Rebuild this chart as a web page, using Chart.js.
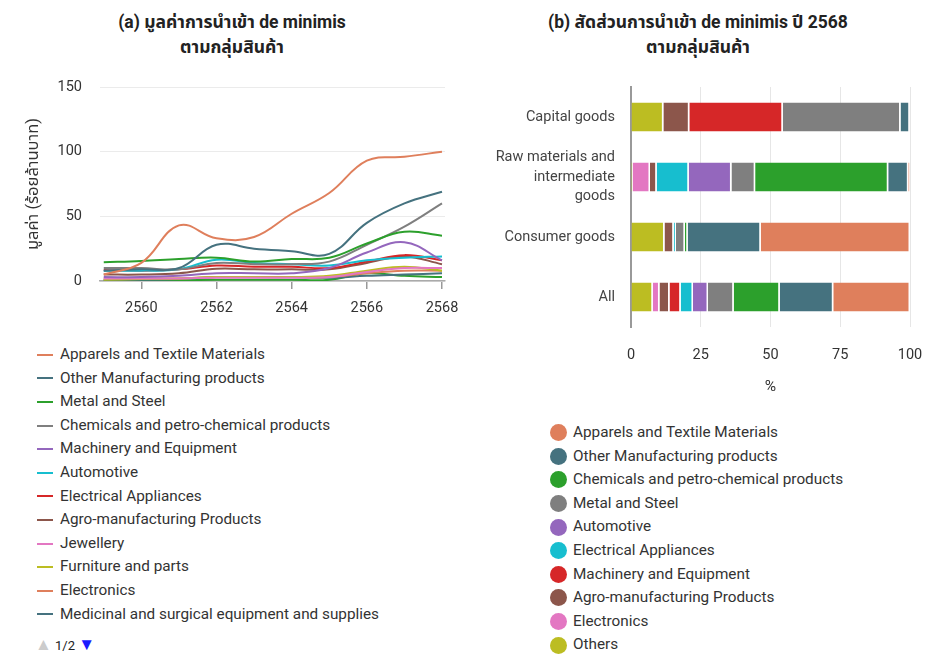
<!DOCTYPE html>
<html>
<head>
<meta charset="utf-8">
<script src="https://cdn.jsdelivr.net/npm/chart.js@4.4.1/dist/chart.umd.min.js"></script>
<style>
  body { margin: 0; background: #fff; font-family: Roboto, "Noto Sans", "Noto Sans Thai", sans-serif; color: #333; }
  .title { position: absolute; top: 10px; text-align: center; font-weight: bold; font-size: 17.5px; line-height: 25px; color: #222; }
  canvas { position: absolute; }
  .legend { position: absolute; list-style: none; margin: 0; padding: 0; font-size: 15.3px; color: #333; }
  .legend li { height: 23.6px; line-height: 23.6px; white-space: nowrap; display: flex; align-items: center; }
  .legend .ln { display: inline-block; width: 16px; height: 2px; margin-right: 7px; }
  .legend .dot { display: inline-block; width: 17px; height: 17px; border-radius: 50%; margin-right: 6px; }
  .pager { position: absolute; left: 35px; top: 634px; font-size: 13px; color: #222; }
</style>
</head>
<body>
<div class="title" style="left:0;width:464px;">(a) มูลค่าการนำเข้า de minimis<br>ตามกลุ่มสินค้า</div>
<div class="title" style="left:464px;width:468px;">(b) สัดส่วนการนำเข้า de minimis ปี 2568<br>ตามกลุ่มสินค้า</div>
<canvas id="lineChart" width="460" height="255" style="left:0;top:70px;"></canvas>
<canvas id="barChart" width="468" height="330" style="left:460px;top:70px;"></canvas>
<ul id="lineLegend" class="legend" style="left:37px;top:343px;"></ul>
<ul id="barLegend" class="legend" style="left:550px;top:421px;"></ul>
<div class="pager"><span style="color:#ccc;font-size:17px;">▲</span> 1/2 <span style="color:#1a1aff;font-size:17px;">▼</span></div>
<script>
// (a) import value by product group, hundred million baht
const years = [2559, 2560, 2561, 2562, 2563, 2564, 2565, 2566, 2567, 2568];
const yearTicks = [2560, 2562, 2564, 2566, 2568];
const apparels    = [5, 14, 43, 33, 34, 52, 68, 93, 96, 100];
const otherManuf  = [8, 9, 10, 28, 25, 23, 21, 45, 60, 69];
const metalSteel  = [14.5, 15.5, 17, 18, 15, 17, 18, 29, 38, 35];
const chemicals   = [10, 10, 9, 14, 13, 13, 15, 28, 42, 60];
const machinery   = [3, 3, 4, 6, 6, 6, 10, 22, 30, 16];
const automotive  = [8, 8, 9, 16.5, 14, 13, 12, 16, 18, 19];
const electrical  = [8.5, 8, 9, 12, 11, 11, 10, 15, 20, 16];
const agro        = [5, 5, 6, 9.5, 9, 9, 9, 14, 19, 13];
const jewellery   = [2, 2, 2, 2.5, 2.5, 2.5, 3, 7, 10, 10];
const furniture   = [1, 1.5, 2, 3, 3, 3, 4, 8, 11, 8];
const electronics = [2, 2, 2, 3, 3, 3, 3, 6, 8, 8];
const medicinal   = [1, 1, 1.5, 3, 3, 3, 2.5, 4, 5, 6];
const othersLine  = [0.5, 0.5, 0.5, 1, 1, 1, 1, 6, 4, 3];
const yTicks = [0, 50, 100, 150];

const lineSeries = [
  ['Apparels and Textile Materials', apparels, '#df7f5c'],
  ['Other Manufacturing products', otherManuf, '#45727f'],
  ['Metal and Steel', metalSteel, '#2ca02c'],
  ['Chemicals and petro-chemical products', chemicals, '#7f7f7f'],
  ['Machinery and Equipment', machinery, '#9467bd'],
  ['Automotive', automotive, '#17becf'],
  ['Electrical Appliances', electrical, '#d62728'],
  ['Agro-manufacturing Products', agro, '#8c564b'],
  ['Jewellery', jewellery, '#e377c2'],
  ['Furniture and parts', furniture, '#bcbd22'],
  ['Electronics', electronics, '#df7f5c'],
  ['Medicinal and surgical equipment and supplies', medicinal, '#45727f'],
  ['Others', othersLine, '#2ca02c']
];
const legendPage = 12;

// (b) share of de minimis imports 2568, %
const groups = ['Capital goods', ['Raw materials and', 'intermediate', 'goods'], 'Consumer goods', 'All'];
const shOthers      = [11.6, 0.6, 12.0, 7.8];
const shElectronics = [0, 6.2, 0, 2.4];
const shAgro        = [9.3, 2.4, 3.3, 3.6];
const shMachinery   = [33.5, 0, 0, 4.0];
const shElectrical  = [0, 11.5, 0.8, 4.4];
const shAutomotive  = [0, 15.3, 0, 5.4];
const shMetal       = [42.2, 8.5, 3.2, 9.2];
const shChemicals   = [0, 47.7, 1.0, 16.5];
const shOtherManuf  = [3.3, 7.2, 26.2, 19.2];
const shApparels    = [0.1, 0.6, 53.5, 27.5];
const xTicks = [0, 25, 50, 75, 100];

const barSeries = [
  ['Others', shOthers, '#bcbd22'],
  ['Electronics', shElectronics, '#e377c2'],
  ['Agro-manufacturing Products', shAgro, '#8c564b'],
  ['Machinery and Equipment', shMachinery, '#d62728'],
  ['Electrical Appliances', shElectrical, '#17becf'],
  ['Automotive', shAutomotive, '#9467bd'],
  ['Metal and Steel', shMetal, '#7f7f7f'],
  ['Chemicals and petro-chemical products', shChemicals, '#2ca02c'],
  ['Other Manufacturing products', shOtherManuf, '#45727f'],
  ['Apparels and Textile Materials', shApparels, '#df7f5c']
];

const fontFam = 'Roboto, "Noto Sans", "Noto Sans Thai", sans-serif';
Chart.defaults.font.family = fontFam;
Chart.defaults.color = '#333';

// fixed axis boxes; drop the label overhang padding chart.js adds
function fixHeight(h) {
  return s => { s.height = h; s.paddingLeft = 0; s.paddingRight = 0; };
}
function fixWidth(w) {
  return s => { s.width = w; s.paddingTop = 0; s.paddingBottom = 0; };
}

const lineChart = new Chart(document.getElementById('lineChart'), {
  type: 'line',
  data: {
    datasets: lineSeries.map(([label, vals, color]) => ({
      label: label,
      data: years.map((y, i) => ({ x: y, y: vals[i] })),
      borderColor: color,
      backgroundColor: color,
      borderWidth: 2,
      pointRadius: 0,
      tension: 0.4,
      fill: false
    }))
  },
  options: {
    responsive: false,
    animation: false,
    layout: { padding: { left: 0, right: 15, top: 17, bottom: 0 } },
    plugins: { legend: { display: false }, tooltip: { enabled: false } },
    scales: {
      x: {
        type: 'linear',
        min: 2558.9,
        max: 2568.08,
        afterBuildTicks: s => { s.ticks = yearTicks.map(v => ({ value: v })); },
        afterFit: fixHeight(44),
        grid: { drawOnChartArea: false, drawTicks: true, tickLength: 8, color: '#999', lineWidth: 1.5 },
        border: { display: true, color: '#aaa', width: 1.5 },
        ticks: { padding: 11, font: { size: 14.5 }, color: '#333', callback: v => String(v), maxRotation: 0 }
      },
      y: {
        min: 0,
        max: 150,
        afterBuildTicks: s => { s.ticks = yTicks.map(v => ({ value: v })); },
        afterFit: fixWidth(100),
        grid: { color: '#ebebeb', drawTicks: false },
        border: { display: false },
        ticks: { padding: 18, font: { size: 14.5 }, color: '#333' },
        title: { display: true, text: 'มูลค่า (ร้อยล้านบาท)', font: { size: 16.5 }, color: '#333', padding: { top: 24, bottom: 0 } }
      }
    }
  }
});

const barChart = new Chart(document.getElementById('barChart'), {
  type: 'bar',
  data: {
    labels: groups,
    datasets: barSeries.map(([label, vals, color]) => ({
      label: label,
      data: vals,
      backgroundColor: color,
      borderColor: '#fff',
      borderWidth: { left: 0, right: 1.5, top: 0, bottom: 0 },
      borderSkipped: false,
      categoryPercentage: 0.8,
      barPercentage: 0.6
    }))
  },
  options: {
    indexAxis: 'y',
    responsive: false,
    animation: false,
    layout: { padding: { left: 0, right: 18, top: 17, bottom: 0 } },
    plugins: { legend: { display: false }, tooltip: { enabled: false } },
    scales: {
      x: {
        stacked: true,
        min: 0,
        max: 100,
        afterBuildTicks: s => { s.ticks = xTicks.map(v => ({ value: v })); },
        afterFit: fixHeight(73),
        grid: { color: '#e6e6e6', drawTicks: false },
        border: { display: false },
        ticks: { padding: 20, font: { size: 14.5 }, color: '#333' },
        title: { display: true, text: '%', font: { size: 15.5 }, color: '#333', padding: { top: 10 } }
      },
      y: {
        stacked: true,
        afterFit: fixWidth(171),
        grid: { display: false, drawTicks: false },
        border: { display: true, color: '#999', width: 2 },
        ticks: { autoSkip: false, padding: 16, font: { size: 14.5, lineHeight: 1.32 }, color: '#444' }
      }
    }
  }
});

// html legends built from the chart items
function buildLegend(chart, el, marker, limit, reverse) {
  let items = chart.options.plugins.legend.labels.generateLabels(chart);
  if (reverse) items = items.reverse();
  items.slice(0, limit).forEach(it => {
    const li = document.createElement('li');
    const m = document.createElement('span');
    m.className = marker;
    m.style.background = marker === 'dot' ? it.fillStyle : it.strokeStyle;
    li.appendChild(m);
    li.appendChild(document.createTextNode(it.text));
    el.appendChild(li);
  });
}
buildLegend(lineChart, document.getElementById('lineLegend'), 'ln', legendPage, false);
buildLegend(barChart, document.getElementById('barLegend'), 'dot', barSeries.length, true);
</script>
</body>
</html>
